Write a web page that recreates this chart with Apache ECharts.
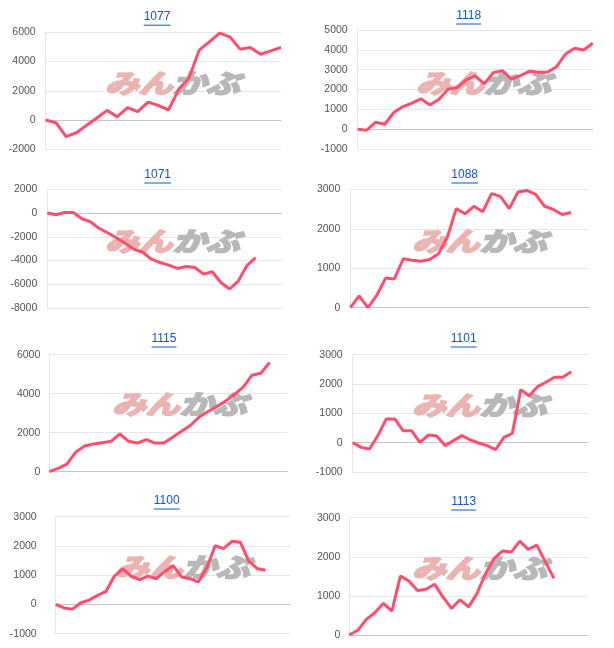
<!DOCTYPE html>
<html><head><meta charset="utf-8">
<script src="https://cdn.jsdelivr.net/npm/echarts@6/dist/echarts.min.js"></script>
<style>html,body{margin:0;padding:0;background:#fff}#c{width:614px;height:648px}</style>
</head><body><div id="c"></div>
<script>
// ---- data ----
const titles = ['1077','1118','1071','1088','1115','1101','1100','1113'];
const v1077 = [0,-180,-1140,-870,-360,140,660,230,850,570,1230,1000,690,2100,2860,4780,5350,5950,5690,4850,4960,4500,4730,4960];
const v1118 = [0,-50,350,250,840,1140,1310,1530,1220,1510,2010,2100,2480,2690,2280,2850,2950,2520,2700,2920,2870,2870,3150,3790,4080,3990,4330];
const v1071 = [0,-140,50,50,-480,-750,-1300,-1680,-2100,-2570,-3050,-3300,-3890,-4170,-4390,-4670,-4500,-4590,-5150,-4950,-5850,-6400,-5730,-4420,-3750];
const v1088 = [0,300,0,310,750,730,1240,1200,1175,1220,1370,1790,2510,2380,2570,2430,2890,2820,2510,2930,2970,2870,2570,2490,2360,2410];
const v1115 = [0,170,390,1000,1320,1420,1490,1560,1940,1560,1470,1650,1470,1470,1770,2070,2370,2800,3090,3340,3620,3960,4340,4950,5050,5600];
const v1101 = [0,-160,-215,240,810,810,410,410,10,260,230,-100,70,240,90,-10,-100,-240,180,320,1810,1600,1910,2060,2230,2230,2420];
const v1100 = [0,-120,-160,60,150,310,450,970,1220,970,850,970,880,1130,1330,940,880,770,1250,2010,1910,2160,2130,1480,1230,1170];
const v1113 = [0,120,400,570,810,610,1510,1380,1140,1170,1300,970,680,900,720,1070,1580,1960,2150,2120,2400,2190,2300,1870,1450];
const values = [v1077, v1118, v1071, v1088, v1115, v1101, v1100, v1113];
const categoryCounts = [24,27,28,28,28,29,29,29];
const yMins = [-2000,-1000,-8000,0,0,-1000,-1000,0];
const yMaxs = [6000,5000,2000,3000,6000,3000,3000,3000];
const ySteps = [2000,1000,2000,1000,2000,1000,1000,1000];

// ---- layout (pixels) ----
const layout = [
  {l:45.7, t:32.3, r:281,   b:149.3, m:10, tx:157,   ty:16.7, wx:172.5, wy:83},
  {l:357.7,t:30,   r:592.7, b:149,   m:10, tx:468.7, ty:15.5, wx:483.5, wy:83},
  {l:47.3, t:189.3,r:281.7, b:308,   m:10, tx:157.7, ty:174.5,wx:172.5, wy:241},
  {l:350.3,t:189.3,r:588.7, b:307.7, m:10, tx:464.7, ty:174.5,wx:479.5, wy:241},
  {l:49.3, t:354.7,r:287.3, b:471.7, m:9,  tx:164,   ty:338.5,wx:179.5, wy:404.5},
  {l:352.7,t:354.7,r:588,   b:472,   m:10, tx:463.7, ty:338.5,wx:479.5, wy:405},
  {l:55.7, t:516.7,r:290.7, b:633.7, m:19, tx:166.7, ty:500.5,wx:182.5, wy:567},
  {l:349.3,t:517.7,r:588,   b:635,   m:9,  tx:463.7, ty:501.5,wx:479.5, wy:568}
];

const chart = echarts.init(document.getElementById('c'), null, {renderer:'canvas'});
const cnv = document.createElement('canvas').getContext('2d');
cnv.font = '12px Arial, "Liberation Sans", sans-serif';
const wmFont = 'italic bold 26px "Noto Sans CJK JP"';

const grids=[], xAxes=[], yAxes=[], series=[], graphics=[];
layout.forEach((L,i)=>{
  grids.push({left:L.l, top:L.t, width:L.r-L.l, height:L.b-L.t});
  xAxes.push({type:'category', gridIndex:i, boundaryGap:false,
    data: Array.from({length: categoryCounts[i]}, (_,k)=>String(k+1)),
    axisLabel:{show:false}, axisTick:{show:false},
    axisLine:{show:true, onZero:true, lineStyle:{color:'#c6c6c6', width:1}},
    splitLine:{show:false}});
  yAxes.push({type:'value', gridIndex:i, min:yMins[i], max:yMaxs[i], interval:ySteps[i],
    axisLine:{show:true, lineStyle:{color:'#e6e6e6'}}, axisTick:{show:false},
    splitLine:{show:true, lineStyle:{color:'#e6e6e6'}},
    axisLabel:{color:'#555', fontSize:10.5, fontFamily:'Arial, "Liberation Sans", sans-serif', margin:L.m,
      formatter:(v)=>String(v)}});
  series.push({type:'line', xAxisIndex:i, yAxisIndex:i, data: values[i], showSymbol:false,
    symbol:'none', lineStyle:{color:'#ff4d6d', width:3}, z:5, animation:false});
  const tw = cnv.measureText(titles[i]).width;
  graphics.push({type:'text', x:L.tx, y:L.ty, z:10,
    style:{text:titles[i], fill:'#1155cc', font:'12px Arial, "Liberation Sans", sans-serif', textAlign:'center', textVerticalAlign:'middle'}});
  graphics.push({type:'line', z:10, shape:{x1:L.tx-tw/2, y1:L.ty+8.5, x2:L.tx+tw/2, y2:L.ty+8.5},
    style:{stroke:'#1155cc', lineWidth:1}});
  graphics.push({type:'group', x:L.wx, y:L.wy, scaleX:1.3, z:1, children:[
    {type:'text', x:0, y:0, z:1, style:{text:'みん', fill:'#ecb3b3', stroke:'#ecb3b3', lineWidth:2, font:wmFont, textAlign:'right', textVerticalAlign:'middle'}},
    {type:'text', x:0, y:0, z:1, style:{text:'かぶ', fill:'#b8b8b8', stroke:'#b8b8b8', lineWidth:2, font:wmFont, textAlign:'left', textVerticalAlign:'middle'}}
  ]});
});

chart.setOption({animation:false, grid:grids, xAxis:xAxes, yAxis:yAxes, series:series, graphic:graphics});
</script></body></html>
